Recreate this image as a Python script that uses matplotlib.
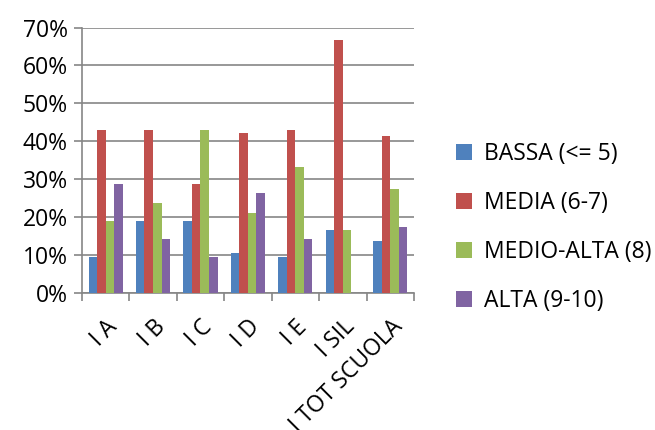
import numpy as np
import matplotlib
matplotlib.use("Agg")
import matplotlib.pyplot as plt
import matplotlib.ticker as ticker

plt.rcParams['font.family'] = ['Open Sans', 'DejaVu Sans']

classi = ['I A', 'I B', 'I C', 'I D', 'I E', 'I SIL', 'I TOT SCUOLA']
serie = ['BASSA (<= 5)', 'MEDIA (6-7)', 'MEDIO-ALTA (8)', 'ALTA (9-10)']
colori = ['#4F81BD', '#C0504D', '#9BBB59', '#8064A2']

bassa = [9.5, 19.0, 19.0, 10.5, 9.5, 16.7, 13.8]
media = [42.9, 42.9, 28.6, 42.1, 42.9, 66.7, 41.3]
medio_alta = [19.0, 23.8, 42.9, 21.1, 33.3, 16.7, 27.5]
alta = [28.6, 14.3, 9.5, 26.3, 14.3, 0.0, 17.3]
valori = [bassa, media, medio_alta, alta]

fig = plt.figure(figsize=(6.55, 4.3), dpi=100)
ax = fig.add_axes([0.125, 0.319, 0.507, 0.617])

x = np.arange(len(classi))
w = 0.18
for i in range(4):
    ax.bar(x + (i - 1.5) * w, np.array(valori[i]) / 100, w, color=colori[i],
           label=serie[i], zorder=3)

ax.set_xlim(-0.5, len(classi) - 0.5)
ax.set_ylim(0, 0.7)
ax.yaxis.set_major_locator(ticker.MultipleLocator(0.1))
ax.yaxis.set_major_formatter(ticker.PercentFormatter(1.0, decimals=0))
ax.yaxis.grid(True, color='#868686', linewidth=1.2, zorder=0)

# ticks between categories
ax.set_xticks(np.arange(len(classi) + 1) - 0.5)
ax.set_xticklabels([])
ax.set_xticks(x, minor=True)
ax.set_xticklabels(classi, minor=True, rotation=45, ha='right',
                   rotation_mode='anchor', fontsize=16.5)
ax.tick_params(axis='x', which='minor', length=0, pad=16)
ax.tick_params(axis='x', which='major', length=6, color='#868686', width=1.2)
ax.tick_params(axis='y', length=6, color='#868686', width=1.2, labelsize=16.5, pad=4)

for s in ['top', 'right']:
    ax.spines[s].set_visible(False)
for s in ['left', 'bottom']:
    ax.spines[s].set_color('#868686')
    ax.spines[s].set_linewidth(1.2)

ax.legend(loc='center left', bbox_to_anchor=(1.065, 0.246), frameon=False,
          fontsize=16.5, handlelength=0.7, handleheight=0.7, labelspacing=1.09,
          handletextpad=0.5)

plt.savefig('out.png', dpi=100)
